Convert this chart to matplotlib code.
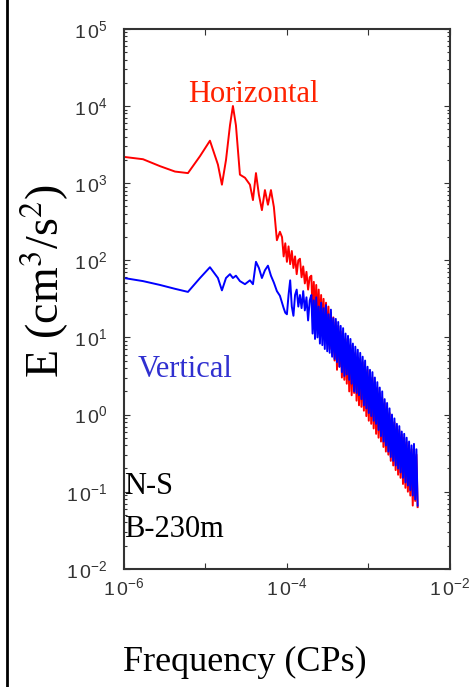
import numpy as np
import matplotlib.pyplot as plt
from matplotlib.lines import Line2D
from matplotlib.ticker import FixedLocator, LogLocator, NullFormatter

# spectra, stored as log10: frequency in cps, energy in cm^3/s^2
log_freq = [
    -6.000, -5.767, -5.558, -5.374, -5.215, -5.067, -4.945, -4.847, -4.798, -4.748,
    -4.699, -4.663, -4.626, -4.577, -4.515, -4.454, -4.417, -4.380, -4.344, -4.307,
    -4.270, -4.233, -4.196, -4.160, -4.123, -4.086,
    -4.06, -4.04, -4.02, -4.00, -3.98, -3.96, -3.94, -3.92, -3.90, -3.88,
    -3.86, -3.84, -3.82, -3.80, -3.78, -3.76, -3.74, -3.72,
    -3.700, -3.685, -3.670, -3.655, -3.640, -3.625, -3.610, -3.595, -3.580, -3.565,
    -3.550, -3.535, -3.520, -3.505, -3.490, -3.475, -3.460, -3.445, -3.430, -3.415,
    -3.400, -3.385, -3.370, -3.355, -3.340, -3.325, -3.310, -3.295, -3.280, -3.265,
    -3.250, -3.235, -3.220, -3.205, -3.190, -3.175, -3.160, -3.145, -3.130, -3.115,
    -3.100, -3.085, -3.070, -3.055, -3.040, -3.025, -3.010, -2.995, -2.980, -2.965,
    -2.950, -2.935, -2.920, -2.905, -2.890, -2.875, -2.860, -2.845, -2.830, -2.815,
    -2.800, -2.785, -2.770, -2.755, -2.740, -2.725, -2.710, -2.695, -2.680, -2.665,
    -2.650, -2.635, -2.620, -2.605, -2.590, -2.575, -2.560, -2.545, -2.530, -2.515,
    -2.500, -2.485, -2.470, -2.455, -2.440, -2.425, -2.410, -2.395,
]

log_e_horiz = [
    3.34, 3.31, 3.22, 3.15, 3.13, 3.35, 3.55, 3.24, 2.98, 3.30,
    3.75, 4.00, 3.75, 3.11, 3.07, 2.98, 2.78, 3.13, 2.85, 2.65,
    2.91, 2.72, 2.91, 2.69, 2.26, 2.37,
    2.30, 2.05, 2.22, 1.98, 2.18, 1.95, 2.12, 1.90, 2.05, 1.82,
    2.00, 2.02, 1.78, 1.92, 1.70, 1.85, 1.62, 1.78,
    1.80, 1.30, 1.72, 1.22, 1.68, 1.18, 1.62, 1.12, 1.55, 1.05,
    1.50, 0.98, 1.45, 0.92, 1.40, 0.85, 1.32, 0.78, 1.26, 0.70,
    1.20, 0.58, 1.15, 0.62, 1.08, 0.48, 1.02, 0.45, 0.98, 0.40,
    0.95, 0.30, 0.90, 0.25, 0.85, 0.28, 0.80, 0.18, 0.74, 0.12,
    0.72, 0.10, 0.68, 0.05, 0.62, -0.02, 0.58, -0.08, 0.52, -0.12,
    0.48, -0.18, 0.42, -0.25, 0.35, -0.30, 0.28, -0.35, 0.22, -0.42,
    0.15, -0.48, 0.08, -0.52, 0.02, -0.60, -0.05, -0.66, -0.10, -0.72,
    -0.15, -0.78, -0.20, -0.82, -0.26, -0.90, -0.30, -0.95, -0.36, -1.00,
    -0.42, -1.05, -0.45, -1.18, -0.50, -1.12, -0.52, -1.20,
]

log_e_vert = [
    1.77, 1.73, 1.68, 1.63, 1.59, 1.77, 1.91, 1.77, 1.61, 1.77,
    1.82, 1.77, 1.80, 1.73, 1.69, 1.74, 1.69, 1.98, 1.90, 1.77,
    1.87, 1.93, 1.80, 1.71, 1.60, 1.54,
    1.45, 1.38, 1.32, 1.30, 1.55, 1.74, 1.40, 1.28, 1.55, 1.62,
    1.40, 1.55, 1.38, 1.60, 1.35, 1.52, 1.22, 1.48,
    1.55, 1.05, 1.48, 0.98, 1.52, 1.00, 1.40, 0.92, 1.45, 0.90,
    1.38, 0.85, 1.42, 0.82, 1.30, 0.80, 1.36, 0.75, 1.25, 0.72,
    1.24, 0.68, 1.20, 0.62, 1.15, 0.55, 1.12, 0.50, 1.05, 0.52,
    1.02, 0.45, 0.98, 0.40, 0.92, 0.30, 0.88, 0.28, 0.84, 0.25,
    0.80, 0.20, 0.75, 0.12, 0.70, 0.08, 0.62, 0.02, 0.58, -0.02,
    0.55, -0.08, 0.48, -0.12, 0.42, -0.20, 0.35, -0.28, 0.30, -0.35,
    0.20, -0.40, 0.15, -0.48, 0.08, -0.55, 0.00, -0.60, -0.05, -0.66,
    -0.12, -0.70, -0.15, -0.75, -0.22, -0.82, -0.25, -0.88, -0.30, -0.92,
    -0.35, -0.98, -0.40, -1.05, -0.38, -1.10, -0.45, -1.18,
]

x_ticks = [1e-6, 1e-5, 1e-4, 1e-3, 1e-2]
x_tick_labels = [r'$\mathregular{1\,0^{-6}}$', '', r'$\mathregular{1\,0^{-4}}$', '',
                 r'$\mathregular{1\,0^{-2}}$']
y_ticks = [1e-2, 1e-1, 1e0, 1e1, 1e2, 1e3, 1e4, 1e5]
y_tick_labels = [r'$\mathregular{1\,0^{%d}}$' % p for p in range(-2, 6)]

plt.rcParams['mathtext.fontset'] = 'stix'
serif = 'Liberation Serif'
dark = '#333333'

freq = 10 ** np.array(log_freq)
e_horiz = 10 ** np.array(log_e_horiz)
e_vert = 10 ** np.array(log_e_vert)

fig = plt.figure(figsize=(4.77, 6.87), dpi=100)
ax = fig.add_axes([0.260, 0.172, 0.683, 0.786])

ax.plot(freq, e_horiz, color='#ff0000', lw=1.4)
ax.plot(freq, e_vert, color='#0000ff', lw=1.4)

ax.set_xscale('log')
ax.set_yscale('log')
ax.set_xlim(1e-6, 1e-2)
ax.set_ylim(1e-2, 1e5)

ax.xaxis.set_major_locator(FixedLocator(x_ticks))
ax.set_xticklabels(x_tick_labels)
ax.xaxis.set_minor_locator(FixedLocator([]))
ax.yaxis.set_major_locator(FixedLocator(y_ticks))
ax.set_yticklabels(y_tick_labels)
ax.yaxis.set_minor_locator(LogLocator(base=10, subs=np.arange(2, 10)))
ax.yaxis.set_minor_formatter(NullFormatter())

ax.tick_params(which='both', direction='in', top=True, right=True, color=dark,
               labelcolor=dark, labelsize=14, width=0.8)
ax.tick_params(which='major', length=4)
ax.tick_params(which='minor', length=2)
ax.tick_params(axis='y', pad=12)
ax.tick_params(axis='x', pad=6)
for lab in ax.get_xticklabels() + ax.get_yticklabels():
    lab.set_family('Liberation Sans')
for sp in ax.spines.values():
    sp.set_color(dark)
    sp.set_linewidth(1.5)

# curve names and station info
ax.text(0.196, 0.878, 'Horizontal', color='#ff2200', fontsize=22, family=serif,
        ha='left', va='center', transform=ax.transAxes)
ax.text(0.043, 0.369, 'Vertical', color='#3030d0', fontsize=22, family=serif,
        ha='left', va='center', transform=ax.transAxes)
ax.text(0.0, 0.152, 'N-S', color='black', fontsize=22, family=serif,
        ha='left', va='center', transform=ax.transAxes)
ax.text(0.0, 0.072, 'B-230m', color='black', fontsize=22, family=serif,
        ha='left', va='center', transform=ax.transAxes)

fig.text(0.094, 0.591, r'E (cm$^{3}$/s$^{2}$)', rotation=90, fontsize=33,
         family=serif, ha='center', va='center')
fig.text(0.514, 0.036, 'Frequency (CPs)', fontsize=26, family=serif,
         ha='center', va='center')

# frame line down the left edge
fig.add_artist(Line2D([0.015, 0.015], [0, 1], transform=fig.transFigure,
                      color='black', lw=2))

fig.savefig('out.png', dpi=100)
